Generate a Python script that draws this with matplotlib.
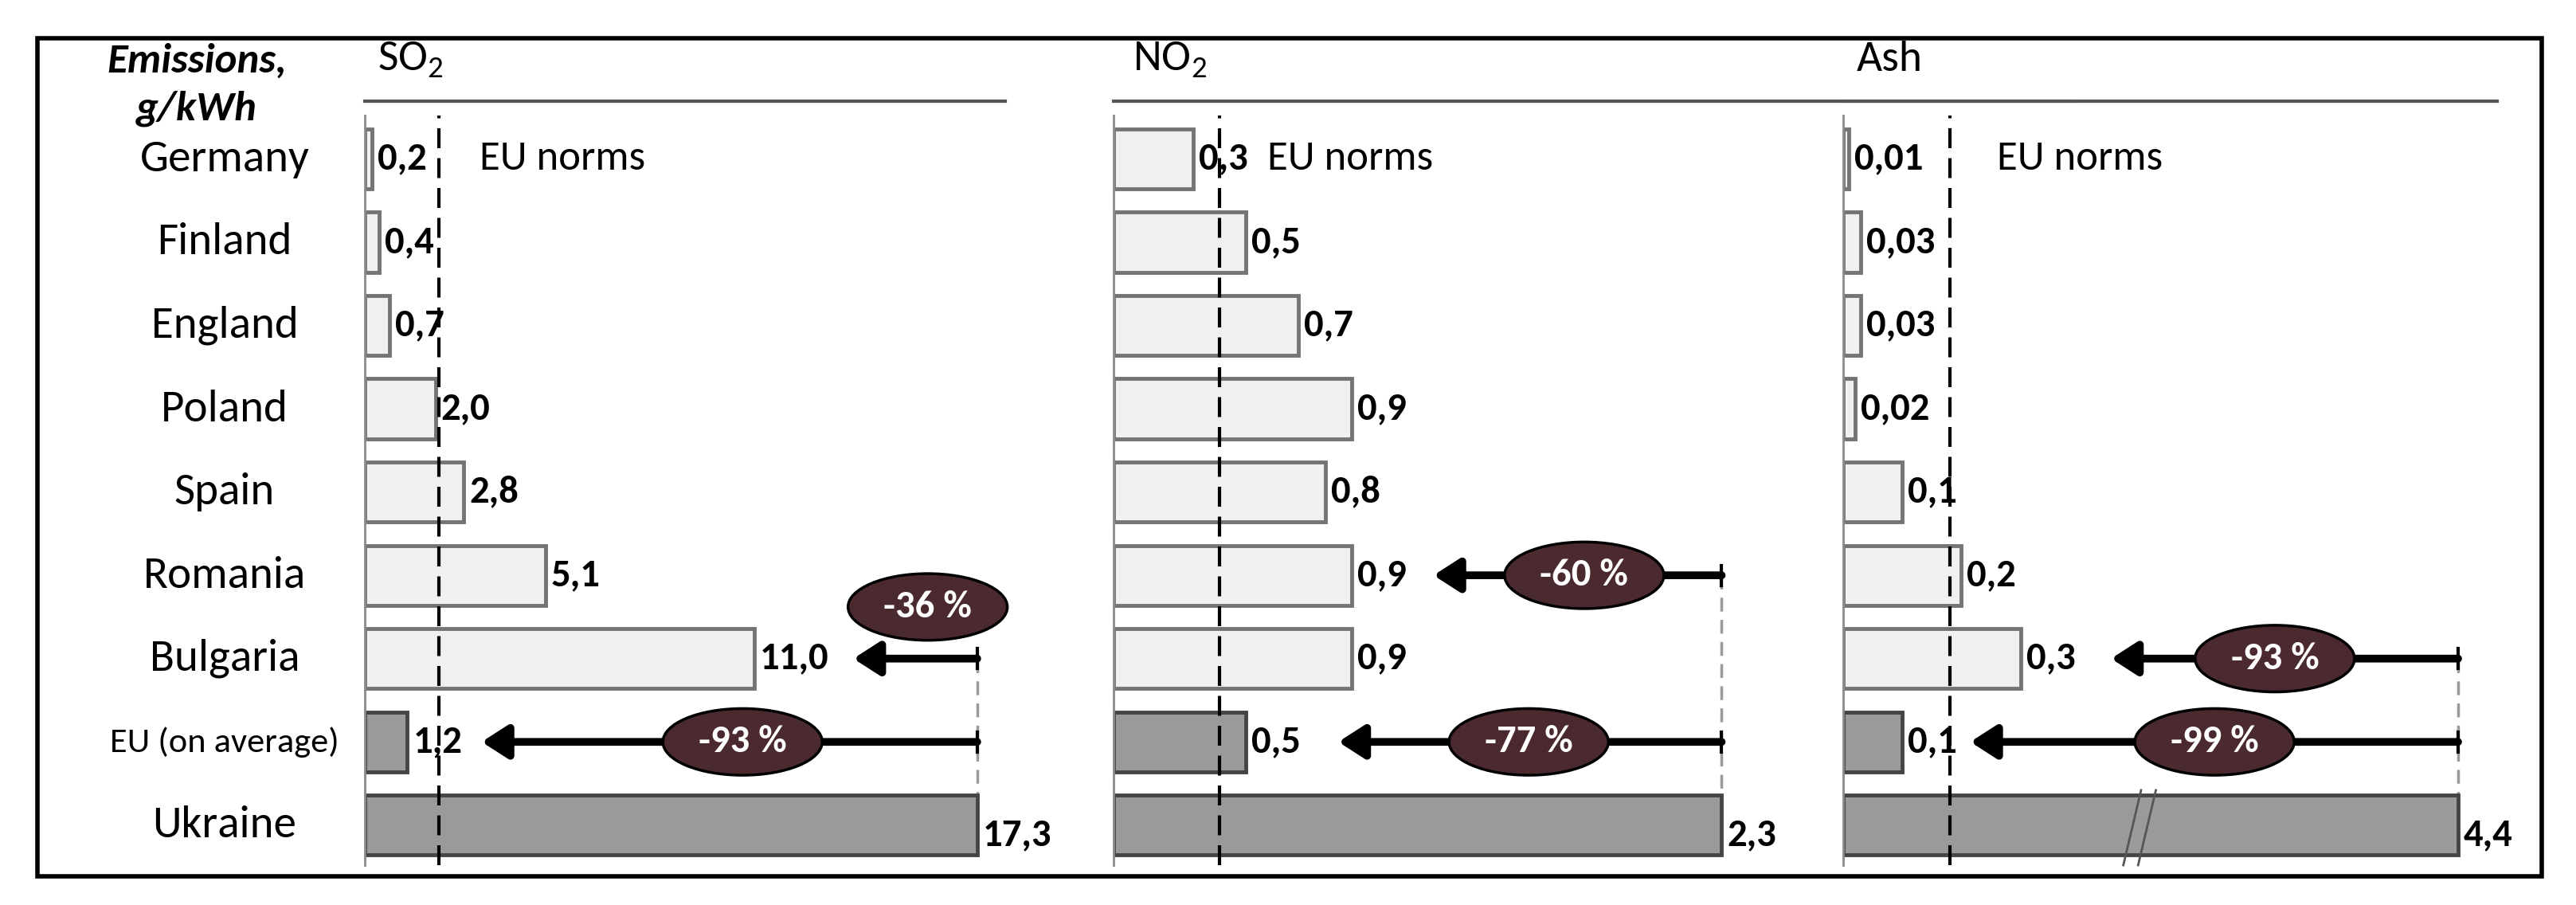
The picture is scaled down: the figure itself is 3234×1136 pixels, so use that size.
import matplotlib
matplotlib.use("Agg")
import matplotlib.pyplot as plt
from matplotlib import font_manager as fm
from matplotlib.patches import Ellipse, Rectangle

# Calibri-like face if one is around, DejaVu otherwise
_avail = {f.name for f in fm.fontManager.ttflist}
FONT = next((f for f in ["Carlito", "Lato", "Open Sans"] if f in _avail), "DejaVu Sans")
plt.rcParams["font.family"] = [FONT, "DejaVu Sans"]
plt.rcParams["mathtext.fontset"] = "custom"
plt.rcParams["mathtext.rm"] = FONT

# emissions, g/kWh
COUNTRIES = ["Germany", "Finland", "England", "Poland", "Spain",
             "Romania", "Bulgaria", "EU (on average)", "Ukraine"]
SO2 = [0.2, 0.4, 0.7, 2.0, 2.8, 5.1, 11.0, 1.2, 17.3]
NO2 = [0.3, 0.5, 0.7, 0.9, 0.8, 0.9, 0.9, 0.5, 2.3]
ASH = [0.01, 0.03, 0.03, 0.02, 0.1, 0.2, 0.3, 0.1, 4.4]
EU_NORMS = [2.1, 0.4, 0.18]
TITLES = ["SO$_2$", "NO$_2$", "Ash"]
# reduction needed for Ukraine to reach a given row
SO2_CUTS = [("Bulgaria", "-36 %"), ("EU (on average)", "-93 %")]
NO2_CUTS = [("Romania", "-60 %"), ("EU (on average)", "-77 %")]
ASH_CUTS = [("Bulgaria", "-93 %"), ("EU (on average)", "-99 %")]

DARK_ROWS = ["EU (on average)", "Ukraine"]

W, H = 3234, 1136
AX_TOP, AX_BOT = 145, 1086
ELL_W_PX, ELL_H_ROWS = 200, 0.8

# layout per panel: pixel span, x max, arrow heads, ellipse x / row shift, norm text x
panels = [
    dict(vals=SO2, cuts=SO2_CUTS, fmt="{:.1f}", px=(458, 1262), xmax=18.09,
         heads=[13.8, 3.3], ell_x=[15.9, 10.67], ell_dy=[-0.62, 0.0], norm_tx=3.24, cap=None),
    dict(vals=NO2, cuts=NO2_CUTS, fmt="{:.1f}", px=(1398, 2603), xmax=3.63,
         heads=[1.21, 0.85], ell_x=[1.78, 1.57], ell_dy=[0.0, 0.0], norm_tx=0.58, cap=None),
    dict(vals=ASH, cuts=ASH_CUTS, fmt="{:g}", px=(2314, 3135), xmax=1.106,
         heads=[0.453, 0.215], ell_x=[0.73, 0.628], ell_dy=[0.0, 0.0], norm_tx=0.26, cap=1.04),
]

fig = plt.figure(figsize=(W / 100, H / 100), dpi=100)

# outer frame
fig.patches.append(Rectangle((47 / W, 1 - 1100 / H), (3191 - 47) / W, (1100 - 48) / H,
                             transform=fig.transFigure, fill=False, ec="black", lw=4))

fig.text(247 / W, 1 - 76 / H, "Emissions,", ha="center", va="center",
         fontsize=38, fontweight="bold", fontstyle="italic")
fig.text(247 / W, 1 - 136 / H, "g/kWh", ha="center", va="center",
         fontsize=38, fontweight="bold", fontstyle="italic")

rows = list(range(len(COUNTRIES)))
row_of = {c: i for i, c in enumerate(COUNTRIES)}
ylim = (len(COUNTRIES) - 1 + 0.48, -0.52)

# country labels
ax_h = AX_BOT - AX_TOP
for i, c in enumerate(COUNTRIES):
    frac = (i - ylim[1]) / (ylim[0] - ylim[1])
    ypix = AX_TOP + frac * ax_h
    fs = 32 if c.startswith("EU") else 41
    fig.text(282 / W, 1 - ypix / H, c, ha="center", va="center", fontsize=fs)

for p, title, norm in zip(panels, TITLES, EU_NORMS):
    x0, x1 = p["px"]
    ax = fig.add_axes([x0 / W, 1 - AX_BOT / H, (x1 - x0) / W, ax_h / H])
    ax.set_xlim(0, p["xmax"])
    ax.set_ylim(*ylim)
    for s in ["top", "right", "bottom"]:
        ax.spines[s].set_visible(False)
    ax.spines["left"].set_color("#8a8a8a")
    ax.spines["left"].set_linewidth(2)
    ax.set_xticks([])
    ax.set_yticks([])

    vals = p["vals"]
    cap = p["cap"]
    shown = [min(v, cap) if cap else v for v in vals]
    faces = ["#9a9a9a" if c in DARK_ROWS else "#f0f0f0" for c in COUNTRIES]
    edges = ["#454545" if c in DARK_ROWS else "#747474" for c in COUNTRIES]
    ax.barh(rows, shown, height=0.72, color=faces, edgecolor=edges, linewidth=3.5, zorder=2)

    # value labels
    for i, (v, s) in enumerate(zip(vals, shown)):
        lab = p["fmt"].format(v).replace(".", ",")
        dy = 0.12 if COUNTRIES[i] == "Ukraine" else 0.0
        ax.annotate(lab, (s, i + dy), xytext=(5, 0), textcoords="offset points",
                    ha="left", va="center", fontsize=35, fontweight="bold", zorder=5)

    # EU norm line
    ax.axvline(norm, color="black", lw=3, ls=(0, (6, 3)), zorder=4)
    ax.text(p["norm_tx"], 0, "EU norms", ha="left", va="center", fontsize=38)

    # header rule and title
    ax.plot([0, 1], [1.019, 1.019], transform=ax.transAxes, color="#555555",
            lw=3, clip_on=False)
    ax.text(0.02, 1.075, title, transform=ax.transAxes, ha="left", va="center", fontsize=40)

    uk = shown[-1]
    top_row = min(row_of[c] for c, _ in p["cuts"])
    ax.plot([uk, uk], [top_row, len(COUNTRIES) - 1 - 0.36], color="#9a9a9a",
            lw=2.5, ls=(0, (5, 3)), zorder=1)

    ell_w = ELL_W_PX * p["xmax"] / (x1 - x0)
    for (country, pct), head, ex, edy in zip(p["cuts"], p["heads"], p["ell_x"], p["ell_dy"]):
        r = row_of[country]
        ax.annotate("", xy=(head, r), xytext=(uk, r),
                    arrowprops=dict(arrowstyle="-|>,head_length=0.7,head_width=0.45",
                                    lw=7, color="black", mutation_scale=28,
                                    shrinkA=0, shrinkB=0), zorder=3)
        ax.plot([uk, uk], [r - 0.12, r + 0.12], color="black", lw=3, zorder=3)
        ax.add_patch(Ellipse((ex, r + edy), ell_w, ELL_H_ROWS, fc="#4b2a2f",
                             ec="black", lw=2.5, zorder=6, clip_on=False))
        ax.text(ex, r + edy, pct, ha="center", va="center", fontsize=35,
                fontweight="bold", color="white", zorder=7)

    # axis break marks on the clipped ash bar
    if cap:
        bx = cap * 0.47
        for dx in (0.0, 0.025):
            ax.plot([bx + dx - 0.015, bx + dx + 0.015],
                    [len(COUNTRIES) - 1 + 0.48, len(COUNTRIES) - 1 - 0.42],
                    color="#555555", lw=2, zorder=3, clip_on=False)

fig.savefig("out.png", dpi=100)
